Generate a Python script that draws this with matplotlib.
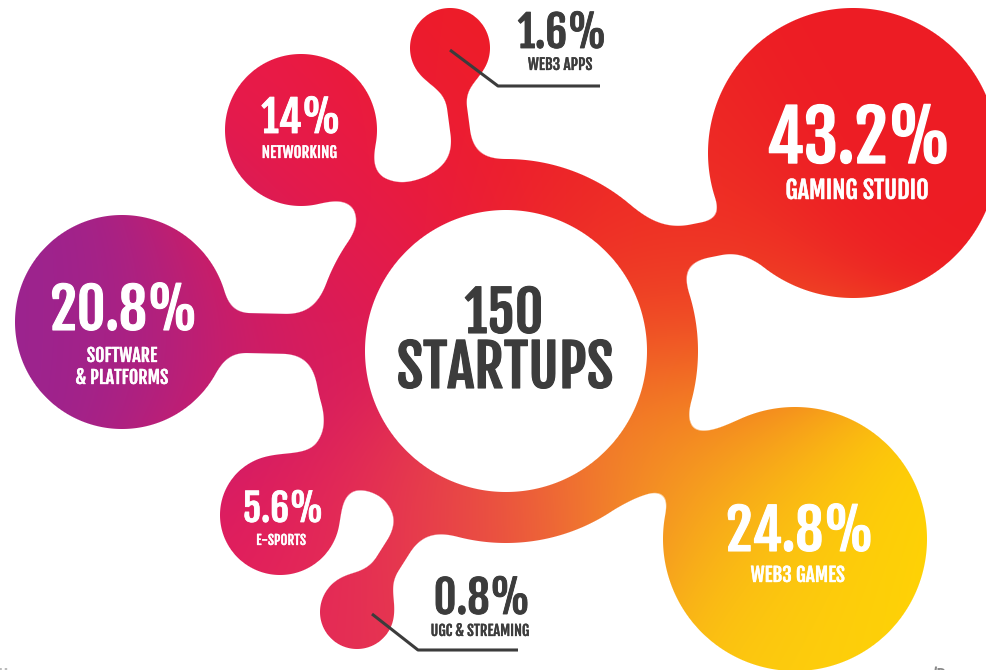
import numpy as np
import matplotlib
matplotlib.use('Agg')
import matplotlib.pyplot as plt
import matplotlib.patheffects as pe
from matplotlib.colors import to_rgb

W, H = 987, 670
FONT = ['Fjalla One', 'Barlow Condensed', 'DejaVu Sans']
DARK = '#3c3c3c'

# data
categories = ['GAMING STUDIO', 'WEB3 GAMES', 'SOFTWARE\n& PLATFORMS',
              'NETWORKING', 'E-SPORTS', 'WEB3 APPS', 'UGC & STREAMING']
shares = [43.2, 24.8, 20.8, 14.0, 5.6, 1.6, 0.8]
total_startups = 150

# layout (pixels, y down): bubble centre/radius, neck capsule, text spots
bubble_xy = [(853, 153), (795, 539), (122, 322), (301, 130),
             (280, 515), (450, 48), (357, 612)]
bubble_r = [145, 132, 107, 76, 60, 40, 37]
necks = [((630, 255), (745, 232), 18), ((635, 455), (735, 470), 30),
         ((150, 331), (340, 335), 20), ((320, 150), (400, 220), 20),
         ((290, 500), (350, 455), 28), ((452, 70), (466, 175), 10),
         ((357, 612), (428, 500), 13)]
text_x = [859, 800, 124, 301, 283, 562, 482]
pct_base = [163, 551, 330, 133, 522, 48, 614]
lab_base = [199, 582, 384, 158, 545, 70, 636]
pct_size = [50, 40, 40, 31, 27, 31, 32]
lab_size = [17.5, 14, 13, 11, 9.6, 11, 10.5]
inside = [True, True, True, True, True, False, False]
leaders = {5: [(450, 50), (498, 86), (600, 86)],
           6: [(372, 614), (418, 650), (518, 650)]}

ring_c, ring_out, ring_in = (506, 351), 192, 141

# colour anchors for the gradient
anchors = [
    (853, 153, '#ed1c24'), (960, 60, '#ed1c24'), (700, 230, '#ee2524'),
    (450, 48, '#ee1c25'), (470, 170, '#ee1c2e'), (590, 180, '#ee2227'),
    (301, 130, '#e91a4b'), (380, 220, '#e81b44'), (40, 320, '#992491'),
    (150, 320, '#a32289'), (250, 330, '#c81e6d'), (330, 330, '#dc1a5a'),
    (330, 250, '#e31a4c'), (280, 515, '#e01760'), (357, 612, '#e52e55'),
    (420, 500, '#e6394e'), (500, 545, '#ea5040'), (580, 525, '#ef6a33'),
    (650, 430, '#f38a26'), (690, 330, '#ef4f27'), (640, 250, '#ee3a25'),
    (720, 470, '#f6a61e'), (800, 540, '#fdcb0f'), (900, 560, '#ffd600'),
    (780, 650, '#fed10c'), (700, 600, '#fbc012'),
]


def circle_sd(X, Y, cx, cy, r):
    return np.hypot(X - cx, Y - cy) - r


def capsule_sd(X, Y, a, b, r):
    bax, bay = b[0] - a[0], b[1] - a[1]
    pax, pay = X - a[0], Y - a[1]
    h = np.clip((pax * bax + pay * bay) / (bax * bax + bay * bay), 0, 1)
    return np.hypot(pax - bax * h, pay - bay * h) - r


def smin(a, b, k):
    h = np.clip(0.5 + 0.5 * (b - a) / k, 0, 1)
    return b * (1 - h) + a * h - k * h * (1 - h)


def label(x, y, s, size, col):
    # thin same-colour outline makes the face a little heavier
    ax.text(x, y, s, ha='center', va='baseline', fontsize=size,
            color=col, family=FONT,
            path_effects=[pe.withStroke(linewidth=size * 0.02, foreground=col)])


X, Y = np.meshgrid(np.arange(W) + 0.5, np.arange(H) + 0.5)

d = circle_sd(X, Y, ring_c[0], ring_c[1], ring_out)
for (cx, cy), r, (a, b, nr) in zip(bubble_xy, bubble_r, necks):
    d = smin(d, capsule_sd(X, Y, a, b, nr), 32)
    d = smin(d, circle_sd(X, Y, cx, cy, r), 22)
d = np.maximum(d, -circle_sd(X, Y, ring_c[0], ring_c[1], ring_in))
alpha = np.clip(0.5 - d, 0, 1)

wsum = np.zeros_like(X)
rgb = np.zeros((H, W, 3))
for ax_, ay_, col in anchors:
    w = np.exp(-((X - ax_) ** 2 + (Y - ay_) ** 2) / (2 * 85.0 ** 2)) + 1e-12
    wsum += w
    rgb += w[..., None] * np.array(to_rgb(col))
rgb /= wsum[..., None]
img = rgb * alpha[..., None] + (1 - alpha[..., None])

fig = plt.figure(figsize=(W / 100, H / 100), dpi=100)
ax = fig.add_axes([0, 0, 1, 1])
ax.imshow(img, extent=(0, W, H, 0), interpolation='nearest')
ax.set_xlim(0, W)
ax.set_ylim(H, 0)
ax.axis('off')

for i, name in enumerate(categories):
    col = 'white' if inside[i] else DARK
    pct = ('%.1f%%' % shares[i]).replace('.0%', '%')
    label(text_x[i], pct_base[i], pct, pct_size[i], col)
    lines = name.split('\n')
    for j, ln in enumerate(lines[::-1]):
        label(text_x[i] - 2, lab_base[i] - j * 22, ln, lab_size[i], col)
    if i in leaders:
        px, py = zip(*leaders[i])
        ax.plot(px, py, color=DARK, lw=2.2, solid_capstyle='butt')

label(504, 333, str(total_startups), 40, DARK)
label(505, 388, 'STARTUPS', 41.5, DARK)

# cut-off fragments at the bottom edge
ax.text(932, 684, '/D', ha='left', va='baseline', fontsize=14,
        color='#8a8a8a', family=FONT)
ax.text(-2, 684, 'H', ha='left', va='baseline', fontsize=14,
        color='#bbbbbb', family=FONT)

fig.savefig('out.png', dpi=100)
